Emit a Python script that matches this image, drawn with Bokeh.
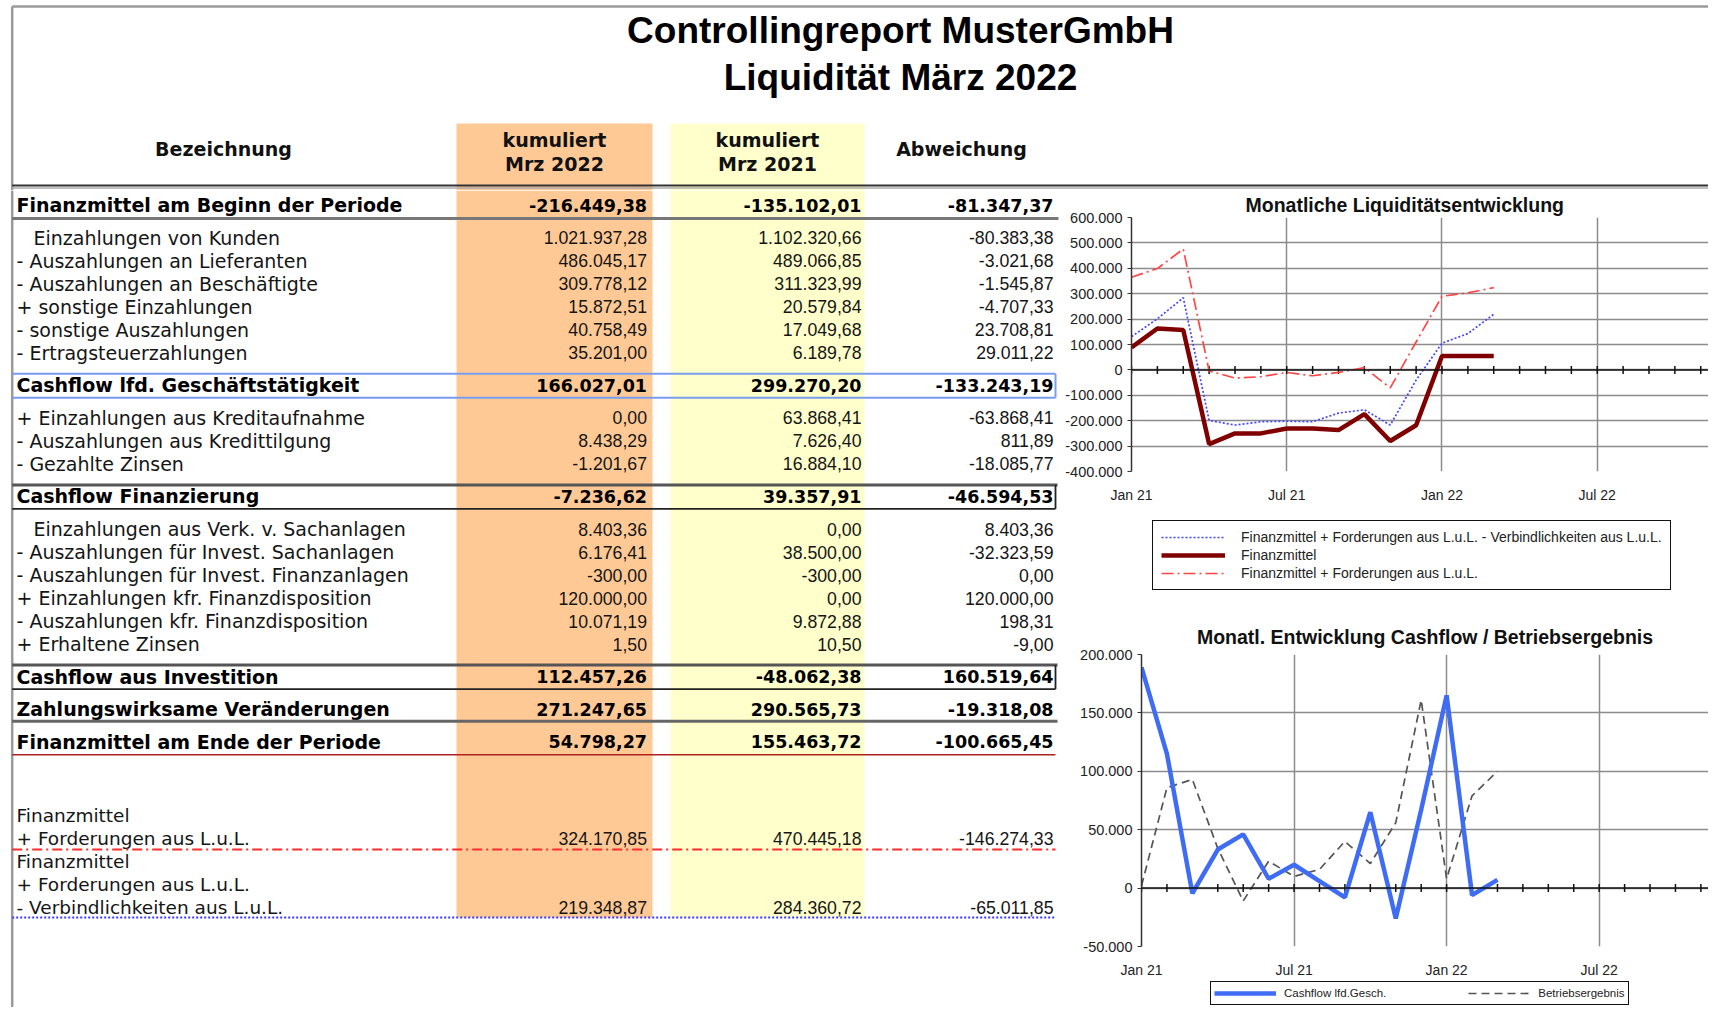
import math
from bokeh.plotting import figure
from bokeh.models import Range1d, FixedTicker, Legend, LegendItem, Span
from bokeh.layouts import column, row
from bokeh.embed import file_html
from bokeh.resources import INLINE
from bokeh.core.properties import value

# ---------------- data ----------------
TITLE_1 = "Controllingreport MusterGmbH"
TITLE_2 = "Liquidität März 2022"
HEAD_LABEL = "Bezeichnung"
HEAD_COL_1 = ["kumuliert", "Mrz 2022"]
HEAD_COL_2 = ["kumuliert", "Mrz 2021"]
HEAD_COL_3 = "Abweichung"

ROW_LABELS = [
    "Finanzmittel am Beginn der Periode",
    "Einzahlungen von Kunden",
    "- Auszahlungen an Lieferanten",
    "- Auszahlungen  an Beschäftigte",
    "+ sonstige Einzahlungen",
    "- sonstige Auszahlungen",
    "- Ertragsteuerzahlungen",
    "Cashflow lfd. Geschäftstätigkeit",
    "+ Einzahlungen aus Kreditaufnahme",
    "- Auszahlungen aus Kredittilgung",
    "- Gezahlte Zinsen",
    "Cashflow Finanzierung",
    "Einzahlungen aus Verk. v. Sachanlagen",
    "- Auszahlungen für Invest. Sachanlagen",
    "- Auszahlungen für Invest. Finanzanlagen",
    "+ Einzahlungen kfr. Finanzdisposition",
    "- Auszahlungen kfr. Finanzdisposition",
    "+ Erhaltene Zinsen",
    "Cashflow aus Investition",
    "Zahlungswirksame Veränderungen",
    "Finanzmittel am Ende der Periode",
]
ROW_BOLD = [1, 0, 0, 0, 0, 0, 0, 1, 0, 0, 0, 1, 0, 0, 0, 0, 0, 0, 1, 1, 1]
ROW_INDENT = [0, 1, 0, 0, 0, 0, 0, 0, 0, 0, 0, 0, 1, 0, 0, 0, 0, 0, 0, 0, 0]
VAL_2022 = [-216449.38, 1021937.28, 486045.17, 309778.12, 15872.51, 40758.49, 35201.00,
            166027.01, 0.00, 8438.29, -1201.67, -7236.62, 8403.36, 6176.41, -300.00,
            120000.00, 10071.19, 1.50, 112457.26, 271247.65, 54798.27]
VAL_2021 = [-135102.01, 1102320.66, 489066.85, 311323.99, 20579.84, 17049.68, 6189.78,
            299270.20, 63868.41, 7626.40, 16884.10, 39357.91, 0.00, 38500.00, -300.00,
            0.00, 9872.88, 10.50, -48062.38, 290565.73, 155463.72]
VAL_DIFF = [-81347.37, -80383.38, -3021.68, -1545.87, -4707.33, 23708.81, 29011.22,
            -133243.19, -63868.41, 811.89, -18085.77, -46594.53, 8403.36, -32323.59, 0.00,
            120000.00, 198.31, -9.00, 160519.64, -19318.08, -100665.45]

EXTRA_LABELS = ["Finanzmittel", "+ Forderungen aus L.u.L.",
                "Finanzmittel", "+ Forderungen aus L.u.L.", "- Verbindlichkeiten aus L.u.L."]
EXTRA_VALUE_LINE = [1, 4]
EXTRA_2022 = [324170.85, 219348.87]
EXTRA_2021 = [470445.18, 284360.72]
EXTRA_DIFF = [-146274.33, -65011.85]

# monthly chart data, Jan 21 .. Mrz 22 (month index)
MONTH_IDX = list(range(15))
MONTH_TICKS = list(range(23))
X_TICKS = [0, 6, 12, 18]
X_TICK_LABELS = ["Jan 21", "Jul 21", "Jan 22", "Jul 22"]

LIQ_TITLE = "Monatliche Liquiditätsentwicklung"
LIQ_NAMES = ["Finanzmittel + Forderungen aus L.u.L. - Verbindlichkeiten aus L.u.L.",
             "Finanzmittel",
             "Finanzmittel + Forderungen aus L.u.L."]
FFV = [131000, 201000, 284000, -199000, -217000, -204000, -202000, -204000, -170000,
       -157000, -217000, -40000, 105000, 143000, 219000]
FM = [88000, 163000, 157000, -292000, -250000, -250000, -231000, -231000, -237000,
      -174000, -280000, -218000, 55000, 55000, 55000]
FF = [365000, 399000, 476000, -4000, -32000, -27000, -10000, -23000, -10000, 9000,
      -71000, 110000, 290000, 303000, 324000]
Y1_TICKS = [-400000, -300000, -200000, -100000, 0, 100000, 200000, 300000, 400000, 500000, 600000]
Y1_LABELS = ["-400.000", "-300.000", "-200.000", "-100.000", "0", "100.000", "200.000",
             "300.000", "400.000", "500.000", "600.000"]

CF_TITLE = "Monatl. Entwicklung Cashflow / Betriebsergebnis"
CF_NAMES = ["Cashflow lfd.Gesch.", "Betriebsergebnis"]
CF = [189000, 115000, -4500, 33000, 46000, 8000, 20000, 6000, -8000, 65000, -26000,
      67000, 165000, -6000, 7000]
BE = [2000, 86000, 93000, 34000, -11000, 23000, 10000, 16000, 40000, 21000, 56000,
      161000, 8000, 79000, 100000]
Y2_TICKS = [-50000, 0, 50000, 100000, 150000, 200000]
Y2_LABELS = ["-50.000", "0", "50.000", "100.000", "150.000", "200.000"]

# ---------------- styles ----------------
LBL = "DejaVu Sans"
NUM = "Liberation Sans"
ORANGE = "#FFC996"
YELLOW = "#FFFFCC"
BORDER = "#9a9a9a"
C_FFV, C_FM, C_FF = "#4545ff", "#800000", "#ff4545"
C_CF, C_BE = "#3f6cf5", "#555555"


def de(v):
    s = f"{v:,.2f}"
    return s.replace(",", "X").replace(".", ",").replace("X", ".")


def canvas(x0, x1, y0, y1):
    p = figure(width=int(x1 - x0), height=int(y1 - y0), x_range=Range1d(x0, x1),
               y_range=Range1d(y1, y0), output_backend="svg", toolbar_location=None,
               tools="", min_border=0, x_axis_location=None, y_axis_location=None)
    p.grid.visible = False
    p.outline_line_color = None
    p.background_fill_color = "white"
    p.border_fill_color = "white"
    return p


def txt(p, xs, ys, texts, font, size, style="normal", align="left", color="#111111"):
    p.text(x=xs, y=ys, text=texts, text_font=value(font), text_font_size=value(size),
           text_font_style=style, text_align=align, text_baseline="middle",
           text_color=color)


# layout (pixel coordinates of the picture)
PAGE_L, PAGE_R = 0, 1708
TOP_Y0, SPLIT_Y, PAGE_B = 0, 190, 1007
TABLE_R = 1060
COL_ORANGE = (456, 652)
COL_YELLOW = (670, 864)
NUM_RIGHT = [646.5, 861, 1053]
BOX_R = 1055
LEFT_EDGE = 11.7
TOP_EDGE = 6
BAND_TOP = 123
BAND_BOTTOM = 917

# ---------------- top figure: title + header ----------------
top = canvas(PAGE_L, PAGE_R, TOP_Y0, SPLIT_Y)
top.quad(left=[COL_ORANGE[0], COL_YELLOW[0]], right=[COL_ORANGE[1], COL_YELLOW[1]],
         top=[BAND_TOP, BAND_TOP], bottom=[SPLIT_Y, SPLIT_Y],
         fill_color=[ORANGE, YELLOW], line_color=None)
top.segment(x0=[LEFT_EDGE, LEFT_EDGE], y0=[TOP_EDGE, TOP_EDGE], x1=[PAGE_R, LEFT_EDGE],
            y1=[TOP_EDGE, SPLIT_Y], line_color=BORDER, line_width=2.5)
txt(top, [900, 900], [30, 77], [TITLE_1, TITLE_2], NUM, "37px", "bold", "center", "#000000")
cx1 = sum(COL_ORANGE) / 2
cx2 = sum(COL_YELLOW) / 2
txt(top, [223, cx1, cx1, cx2, cx2, 961], [148, 139, 163, 139, 163, 148],
    [HEAD_LABEL, HEAD_COL_1[0], HEAD_COL_1[1], HEAD_COL_2[0], HEAD_COL_2[1], HEAD_COL_3],
    LBL, "19px", "bold", "center", "#111111")
top.segment(x0=[LEFT_EDGE], y0=[185], x1=[PAGE_R], y1=[185], line_color="#333333", line_width=2)
top.segment(x0=[LEFT_EDGE], y0=[187.5], x1=[PAGE_R], y1=[187.5], line_color="#aaaaaa", line_width=1.5)

# ---------------- left figure: table ----------------
tab = canvas(PAGE_L, TABLE_R, SPLIT_Y, PAGE_B)
tab.quad(left=[COL_ORANGE[0], COL_YELLOW[0]], right=[COL_ORANGE[1], COL_YELLOW[1]],
         top=[SPLIT_Y, SPLIT_Y], bottom=[BAND_BOTTOM, BAND_BOTTOM],
         fill_color=[ORANGE, YELLOW], line_color=None)
tab.segment(x0=[LEFT_EDGE], y0=[SPLIT_Y], x1=[LEFT_EDGE], y1=[PAGE_B],
            line_color=BORDER, line_width=2.5)

# row centre positions
ys = [204.5]
for i in range(1, len(ROW_LABELS)):
    step = 32.6 if (ROW_BOLD[i] or ROW_BOLD[i - 1]) else 23.0
    ys.append(ys[-1] + step)

norm_idx = [i for i in range(len(ROW_LABELS)) if not ROW_BOLD[i]]
bold_idx = [i for i in range(len(ROW_LABELS)) if ROW_BOLD[i]]

txt(tab, [33 if ROW_INDENT[i] else 16 for i in norm_idx], [ys[i] for i in norm_idx],
    [ROW_LABELS[i] for i in norm_idx], LBL, "19px", "normal", "left", "#151515")
txt(tab, [16] * len(bold_idx), [ys[i] for i in bold_idx],
    [ROW_LABELS[i] for i in bold_idx], LBL, "19px", "bold", "left", "#000000")

for col, vals in enumerate([VAL_2022, VAL_2021, VAL_DIFF]):
    txt(tab, [NUM_RIGHT[col]] * len(norm_idx), [ys[i] for i in norm_idx],
        [de(vals[i]) for i in norm_idx], NUM, "17.7px", "normal", "right", "#151515")
    txt(tab, [NUM_RIGHT[col]] * len(bold_idx), [ys[i] for i in bold_idx],
        [de(vals[i]) for i in bold_idx], LBL, "17.5px", "bold", "right", "#000000")

# extra section
ey = [815 + 23 * k for k in range(len(EXTRA_LABELS))]
txt(tab, [16] * len(EXTRA_LABELS), ey, EXTRA_LABELS, LBL, "18.5px", "normal", "left", "#151515")
for col, vals in enumerate([EXTRA_2022, EXTRA_2021, EXTRA_DIFF]):
    txt(tab, [NUM_RIGHT[col]] * 2, [ey[k] for k in EXTRA_VALUE_LINE],
        [de(v) for v in vals], NUM, "17.7px", "normal", "right", "#151515")

# table rules
r_beg, r_lfd, r_fin, r_inv, r_zah, r_end = 0, 7, 11, 18, 19, 20
tab.segment(x0=[LEFT_EDGE], y0=[ys[r_beg] + 13.5], x1=[BOX_R + 3], y1=[ys[r_beg] + 13.5],
            line_color="#777777", line_width=3)
tab.segment(x0=[LEFT_EDGE, LEFT_EDGE, BOX_R], y0=[ys[r_lfd] - 11.5, ys[r_lfd] + 12.5, ys[r_lfd] - 11.5],
            x1=[BOX_R, BOX_R, BOX_R], y1=[ys[r_lfd] - 11.5, ys[r_lfd] + 12.5, ys[r_lfd] + 12.5],
            line_color="#7a9cf0", line_width=2)
for r in (r_fin, r_inv):
    tab.segment(x0=[LEFT_EDGE], y0=[ys[r] - 11.5], x1=[BOX_R + 2], y1=[ys[r] - 11.5],
                line_color="#555555", line_width=3)
    tab.segment(x0=[LEFT_EDGE, BOX_R], y0=[ys[r] + 12.5, ys[r] - 11.5], x1=[BOX_R, BOX_R],
                y1=[ys[r] + 12.5, ys[r] + 12.5], line_color="#222222", line_width=1.8)
tab.segment(x0=[LEFT_EDGE], y0=[ys[r_zah] + 12], x1=[BOX_R + 2], y1=[ys[r_zah] + 12],
            line_color="#666666", line_width=3)
tab.segment(x0=[LEFT_EDGE], y0=[ys[r_end] + 13], x1=[BOX_R], y1=[ys[r_end] + 13],
            line_color="#b22020", line_width=1.5)
tab.segment(x0=[LEFT_EDGE], y0=[ey[1] + 11], x1=[BOX_R], y1=[ey[1] + 11],
            line_color="#ff2a2a", line_width=2, line_dash="10 4 2 4")
tab.segment(x0=[LEFT_EDGE], y0=[ey[4] + 10], x1=[BOX_R], y1=[ey[4] + 10],
            line_color="#3a3aff", line_width=2, line_dash="2 2")


# ---------------- charts ----------------
def chart(height, left, top_b, bottom_b, yr, yticks, ylabels, title, talign, toffset,
          tvalign, tstand):
    c = figure(width=PAGE_R - TABLE_R, height=height, x_range=Range1d(0, 22.3),
               y_range=Range1d(*yr), output_backend="svg", toolbar_location=None, tools="",
               min_border_left=left, min_border_right=0, min_border_top=top_b,
               min_border_bottom=bottom_b, title=title)
    c.background_fill_color = "white"
    c.border_fill_color = "white"
    c.outline_line_color = None
    c.title.text_font = "Liberation Sans"
    c.title.text_font_size = "19.5px"
    c.title.text_font_style = "bold"
    c.title.text_color = "#111111"
    c.title.align = talign
    c.title.offset = toffset
    c.title.vertical_align = tvalign
    c.title.standoff = tstand
    ya = c.yaxis[0]
    ya.ticker = FixedTicker(ticks=yticks)
    ya.major_label_overrides = dict(zip(yticks, ylabels))
    ya.major_label_text_font = "Liberation Sans"
    ya.major_label_text_font_size = "14.5px"
    ya.major_label_text_color = "#222222"
    ya.axis_line_color = "#333333"
    ya.axis_line_width = 1.5
    ya.major_tick_line_color = "#333333"
    ya.major_tick_out = 4
    ya.major_tick_in = 0
    ya.minor_tick_line_color = None
    ya.major_label_standoff = 5
    xa = c.xaxis[0]
    xa.ticker = FixedTicker(ticks=X_TICKS)
    xa.major_label_overrides = dict(zip(X_TICKS, X_TICK_LABELS))
    xa.major_label_text_font = "Liberation Sans"
    xa.major_label_text_font_size = "14px"
    xa.major_label_text_color = "#222222"
    xa.axis_line_color = None
    xa.major_tick_line_color = None
    xa.minor_tick_line_color = None
    xa.major_label_standoff = 9
    c.xgrid.ticker = FixedTicker(ticks=X_TICKS + [24])
    for g in (c.xgrid, c.ygrid):
        g.grid_line_color = "#8c8c8c"
        g.grid_line_width = 1.5
    c.add_layout(Span(location=0, dimension="width", line_color="#111111", line_width=1.5))
    c.scatter(x=MONTH_TICKS, y=[0] * len(MONTH_TICKS), marker="dash", angle=math.pi / 2,
              size=8, line_color="#111111", line_width=1.5)
    return c


def add_legend(lf, items, loc, orientation, **kw):
    # series are drawn outside this figure's visible frame; only the legend shows
    entries = []
    for label, style, yvals in items:
        r = lf.line(x=MONTH_IDX, y=yvals, **style)
        entries.append(LegendItem(label=label, renderers=[r]))
    leg = Legend(items=entries, location=loc, orientation=orientation, margin=0,
                 label_text_font="Liberation Sans", label_text_color="#222222",
                 border_line_color="#111111", border_line_width=1.5, border_line_alpha=1.0,
                 background_fill_alpha=1.0, **kw)
    lf.add_layout(leg)


S_FFV = dict(line_color=C_FFV, line_width=1.7, line_dash="2 2")
S_FM = dict(line_color=C_FM, line_width=4.5)
S_FF = dict(line_color=C_FF, line_width=1.7, line_dash="12 4 2 4")
S_CF = dict(line_color=C_CF, line_width=4.5)
S_BE = dict(line_color=C_BE, line_width=1.7, line_dash="8 5")

# chart 1: y 190..505, frame 217..478, x 1131..1708
c1 = chart(315, 1131 - TABLE_R, 27, 27, (-400000, 600000), Y1_TICKS, Y1_LABELS,
           LIQ_TITLE, "left", 114, "top", 0)
c1.line(MONTH_IDX, FFV, **S_FFV)
c1.line(MONTH_IDX, FF, **S_FF)
c1.line(MONTH_IDX, FM, **S_FM)

# legend 1 (y 505..615)
lg1 = canvas(TABLE_R, PAGE_R, 505, 615)
add_legend(lg1, [(LIQ_NAMES[0], S_FFV, FFV), (LIQ_NAMES[1], S_FM, FM), (LIQ_NAMES[2], S_FF, FF)],
           (1152 - TABLE_R, 615 - 590), "vertical", padding=8, spacing=2,
           glyph_width=64, glyph_height=16, label_height=16, label_standoff=16,
           label_text_font_size="14px")

# chart 2: y 615..980, frame 654..953, x 1141..1708
c2 = chart(365, 1141 - TABLE_R, 39, 27, (-50000, 200000), Y2_TICKS, Y2_LABELS,
           CF_TITLE, "center", 0, "bottom", 13)
c2.line(MONTH_IDX, BE, **S_BE)
c2.line(MONTH_IDX, CF, **S_CF)

lg2 = canvas(TABLE_R, PAGE_R, 980, PAGE_B)
add_legend(lg2, [(CF_NAMES[0], S_CF, CF), (CF_NAMES[1], S_BE, BE)],
           (1210 - TABLE_R, 2), "horizontal", padding=3, spacing=82,
           glyph_width=62, glyph_height=16, label_height=16, label_standoff=8,
           label_text_font_size="11.5px")

right = column(row(c1), row(lg1), row(c2), row(lg2), spacing=0)
layout = column(top, row(tab, right, spacing=0), spacing=0)
open("out.html", "w").write(file_html(layout, INLINE))
